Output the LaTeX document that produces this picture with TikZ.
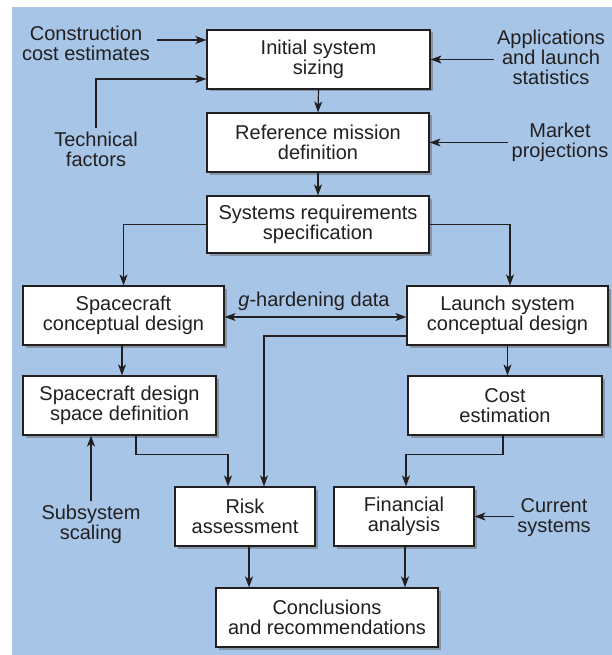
\documentclass[tikz,border=0pt]{standalone}
\usepackage{fontspec}
\setmainfont{Liberation Sans}
\setsansfont{Liberation Sans}
\usepackage{tikz}
\usetikzlibrary{arrows.meta, shapes, shadows, calc}
\definecolor{PanelBlue}{RGB}{167,198,231}
\definecolor{InkGray}{RGB}{35,31,32}
\pgfdeclarelayer{background}
\pgfsetlayers{background,main}

\begin{document}
\begin{tikzpicture}[x=1pt, y=-1pt]

% Sans-serif text
\sffamily

% Box, label and arrow styles
\tikzset{bx/.style={draw = InkGray, line width = 1.2pt, fill = white, text = InkGray, align = center, inner sep = 0pt, minimum height = 59pt, font = \fontsize{20}{20.5}\selectfont, drop shadow = {shadow xshift = 2.5pt, shadow yshift = -2.5pt, fill = black!60, opacity = 0.5}}}
\tikzset{lbl/.style={text = InkGray, align = center, inner sep = 3pt, font = \fontsize{20}{20}\selectfont}}
\tikzset{arr/.style={draw = InkGray, line width = 1.2pt, -{Stealth[length = 11pt, width = 8pt, inset = 3pt]}}}
\tikzset{darr/.style={arr, {Stealth[length = 11pt, width = 8pt, inset = 3pt]}-{Stealth[length = 11pt, width = 8pt, inset = 3pt]}}}

\useasboundingbox (0,0) rectangle (612,655);

% Process boxes
\node (init) [bx, minimum width = 223pt] at (318.5, 59.5) {Initial system\\sizing};
\node (ref) [bx, minimum width = 222pt] at (318, 142.5) {Reference mission\\definition};
\node (req) [bx, minimum width = 222pt, minimum height = 57pt] at (318, 224.5) {Systems requirements\\specification};

\node (scCon) [bx, minimum width = 201pt] at (123.5, 315.5) {Spacecraft\\conceptual design};
\node (lsCon) [bx, minimum width = 201pt] at (507.5, 315.5) {Launch system\\conceptual design};

\node (scDef) [bx, minimum width = 193pt] at (119.5, 405.5) {Spacecraft design\\space definition};
\node (cost) [bx, minimum width = 194pt] at (505, 405.5) {Cost\\estimation};

\node (risk) [bx, minimum width = 140pt] at (245, 516.5) {Risk\\assessment};
\node (fin) [bx, minimum width = 140pt] at (404, 516.5) {Financial\\analysis};

\node (concl) [bx, minimum width = 222pt] at (327, 617.5) {Conclusions\\and recommendations};

% Input labels
\node (cce) [lbl] at (86, 43) {Construction\\cost estimates};
\node (tf) [lbl] at (96, 149) {Technical\\factors};
\node (apps) [lbl] at (551, 57) {Applications\\and launch\\statistics};
\node (mkt) [lbl] at (560, 142) {Market\\projections};
\node (gh) [lbl] at (314, 301) {\textit{g}-hardening data};
\node (sub) [lbl] at (91, 524) {Subsystem\\scaling};
\node (cur) [lbl] at (554, 518) {Current\\systems};

% Input arrows
\draw[arr] ($(cce.east |- init.west) + (4, -19.5)$) -- ($(init.west) + (0, -19.5)$);
\draw[arr] (tf.north) |- ($(init.west) + (0, 19.5)$);
\draw[arr] (init.east -| apps.west) -- (init.east);
\draw[arr] (ref.east -| mkt.west) -- (ref.east);
\draw[arr] (sub.north) -- (sub.north |- scDef.south);
\draw[arr] (fin.east -| cur.west) -- (fin.east);

% Flow arrows
\draw[arr] (init.south) -- (ref.north);
\draw[arr] (ref.south) -- (req.north);

\draw[arr] (req.west) -| (scCon.north);
\draw[arr] (req.east) -| ($(lsCon.north) + (2.5, 0)$);

\draw[darr] ($(scCon.east) + (0, 1.5)$) -- ($(lsCon.west) + (0, 1.5)$);

\draw[arr] ($(scCon.south) + (-1.5, 0)$) -- ($(scCon.south |- scDef.north) + (-1.5, 0)$);
\draw[arr] (lsCon.south) -- (lsCon.south |- cost.north);

\draw[arr] ($(scDef.south) + (16.5, 0)$) |- ($(risk.north) + (-17, -32)$) -- ($(risk.north) + (-17, 0)$);
\draw[arr] ($(lsCon.west) + (0, 20.5)$) -| ($(risk.north) + (19, 0)$);
\draw[arr] ($(cost.south) + (-2, 0)$) |- ($(fin.north) + (2, -32)$) -- ($(fin.north) + (2, 0)$);

\draw[arr] ($(risk.south) + (4, 0)$) -- ($(risk.south |- concl.north) + (4, 0)$);
\draw[arr] ($(fin.south) + (1, 0)$) -- ($(fin.south |- concl.north) + (1, 0)$);

% Background panel
\begin{pgfonlayer}{background}
	\fill[PanelBlue] (12, 7) rectangle (612, 655);
\end{pgfonlayer}

\end{tikzpicture}
\end{document}
